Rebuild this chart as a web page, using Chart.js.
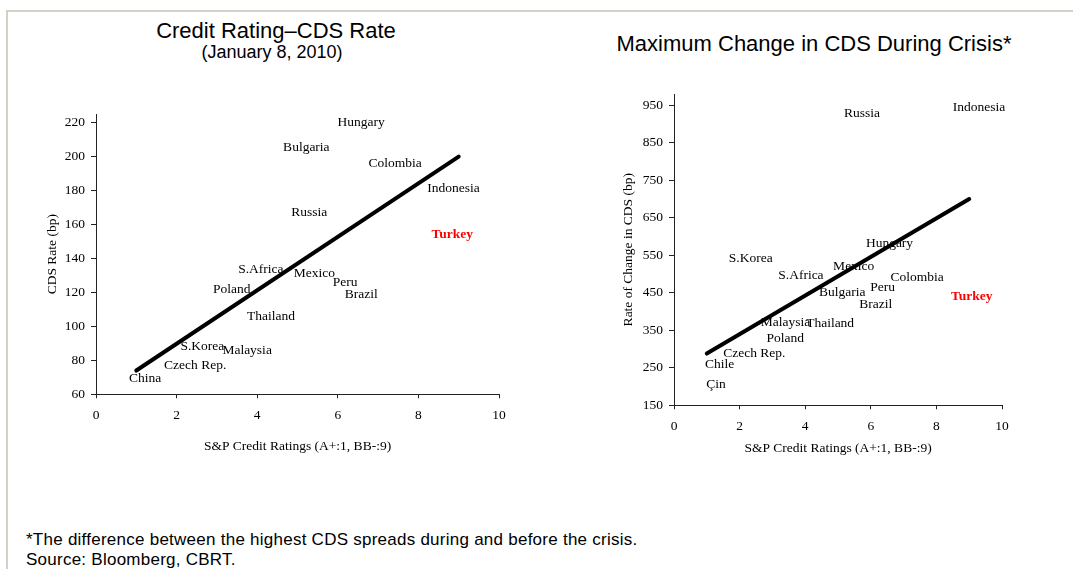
<!DOCTYPE html>
<html>
<head>
<meta charset="utf-8">
<script src="https://cdn.jsdelivr.net/npm/chart.js@4.4.0/dist/chart.umd.min.js"></script>
<style>
  body { margin: 0; background: #fff; }
  #page { position: relative; width: 1073px; height: 569px; overflow: hidden; background: #fff; }
  .rule { position: absolute; background: #d4d0c8; }
  .ttl { position: absolute; font-family: 'Liberation Sans', Arial, sans-serif; color: #000; text-align: center; white-space: nowrap; }
  .note { position: absolute; left: 26px; font-family: 'Liberation Sans', Arial, sans-serif; font-size: 17px; line-height: 20px; letter-spacing: 0.25px; color: #000; white-space: nowrap; }
  canvas { position: absolute; }
</style>
</head>
<body>
<div id="page">
  <div class="rule" style="left:6px; top:10px; width:1067px; height:2px;"></div>
  <div class="rule" style="left:6px; top:10px; width:2px; height:559px;"></div>

  <div class="ttl" style="left:76px; top:20px; width:400px; font-size:22px; line-height:22px;">Credit Rating–CDS Rate</div>
  <div class="ttl" style="left:72px; top:43px; width:400px; font-size:18px; line-height:18px;">(January 8, 2010)</div>
  <div class="ttl" style="left:514px; top:33px; width:600px; font-size:22px; line-height:22px;">Maximum Change in CDS During Crisis*</div>

  <div style="position:absolute; left:0; top:100px; width:520px; height:370px;"><canvas id="leftChart"></canvas></div>
  <div style="position:absolute; left:560px; top:80px; width:480px; height:400px;"><canvas id="rightChart"></canvas></div>

  <div class="note" style="top:530px;">*The difference between the highest CDS spreads during and before the crisis.<br>Source: Bloomberg, CBRT.</div>
</div>

<script>
// left panel: CDS level on 8 Jan 2010
const leftCountries = ['Hungary', 'Bulgaria', 'Colombia', 'Indonesia', 'Russia', 'Turkey', 'S.Africa', 'Mexico', 'Peru', 'Brazil', 'Poland', 'Thailand', 'S.Korea', 'Malaysia', 'Czech Rep.', 'China']
const leftRating = [6.58, 5.22, 7.42, 8.87, 5.29, 8.84, 4.09, 5.42, 6.18, 6.58, 3.37, 4.34, 2.64, 3.75, 2.46, 1.22]
const leftCds = [220, 205.5, 196, 181.4, 167.3, 154.1, 133.5, 131.4, 126.1, 118.6, 122, 106, 88.2, 86, 77, 69.6]
const leftTrendX = [1, 9]
const leftTrendY = [74, 200]

// right panel: max change in CDS during crisis
const rightCountries = ['Russia', 'Indonesia', 'Hungary', 'S.Korea', 'Mexico', 'S.Africa', 'Colombia', 'Peru', 'Bulgaria', 'Turkey', 'Brazil', 'Malaysia', 'Thailand', 'Poland', 'Czech Rep.', 'Chile', 'Çin']
const rightRating = [5.73, 9.30, 6.57, 2.34, 5.48, 3.87, 7.41, 6.36, 5.13, 9.08, 6.15, 3.40, 4.76, 3.39, 2.45, 1.39, 1.28]
const rightChange = [928, 944, 582, 542, 521, 497, 492, 463, 452, 441, 418, 372, 368, 327, 287, 258, 205]
const rightTrendX = [1, 9]
const rightTrendY = [288, 700]

const xTicks = [0, 2, 4, 6, 8, 10]
const leftYTicks = [60, 80, 100, 120, 140, 160, 180, 200, 220]
const rightYTicks = [150, 250, 350, 450, 550, 650, 750, 850, 950]

Chart.defaults.font.family = "'Liberation Serif', 'Times New Roman', serif"
Chart.defaults.font.size = 13.5
Chart.defaults.color = '#000'

const serif = { family: "'Liberation Serif', 'Times New Roman', serif", size: 13.5 }

// country names are drawn as the marks, under the trend line
const nameLabels = {
  id: 'nameLabels',
  beforeDatasetsDraw (chart) {
    const names = chart.options.plugins.nameLabels.names
    const meta = chart.getDatasetMeta(0)
    const ctx = chart.ctx
    ctx.save()
    ctx.textAlign = 'center'
    ctx.textBaseline = 'middle'
    meta.data.forEach((pt, i) => {
      const turkey = names[i] === 'Turkey'
      ctx.font = (turkey ? 'bold ' : '') + serif.size + 'px ' + serif.family
      ctx.fillStyle = turkey ? '#ff0000' : '#000'
      ctx.fillText(names[i], pt.x, pt.y)
    })
    ctx.restore()
  }
}

function makeChart (id, names, xs, ys, tx, ty, yMin, yMax, yTicks, yTitle, geo) {
  const ctx = document.getElementById(id).getContext('2d')
  return new Chart(ctx, {
    type: 'scatter',
    data: {
      datasets: [
        {
          data: xs.map((x, i) => ({ x: x, y: ys[i] })),
          pointRadius: 0,
          pointHoverRadius: 0
        },
        {
          data: tx.map((x, i) => ({ x: x, y: ty[i] })),
          showLine: true,
          borderColor: '#000',
          borderWidth: 4,
          pointRadius: 0,
          borderCapStyle: 'round'
        }
      ]
    },
    options: {
      responsive: true,
      maintainAspectRatio: false,
      animation: false,
      events: [],
      layout: { padding: { top: geo.top, right: geo.right, left: 0, bottom: 0 } },
      plugins: {
        legend: { display: false },
        tooltip: { enabled: false },
        nameLabels: { names: names }
      },
      scales: {
        x: {
          type: 'linear',
          min: 0,
          max: 10,
          afterBuildTicks: s => { s.ticks = xTicks.map(v => ({ value: v })) },
          afterFit: s => { s.height = geo.xh },
          ticks: { font: serif, padding: 9, color: '#000' },
          grid: { drawOnChartArea: false, drawTicks: true, tickLength: 4, color: '#222' },
          border: { display: true, color: '#222', width: 1 },
          title: { display: true, text: 'S&P Credit Ratings (A+:1, BB-:9)', font: serif, color: '#000', padding: { top: 0, bottom: geo.xtp } }
        },
        y: {
          type: 'linear',
          min: yMin,
          max: yMax,
          afterBuildTicks: s => { s.ticks = yTicks.map(v => ({ value: v })) },
          afterFit: s => { s.width = geo.yw },
          ticks: { font: serif, padding: 6, color: '#000' },
          grid: { drawOnChartArea: false, drawTicks: true, tickLength: 5, color: '#222' },
          border: { display: true, color: '#222', width: 1 },
          title: { display: true, text: yTitle, font: serif, color: '#000', padding: { top: geo.ytp, bottom: 0 } }
        }
      }
    },
    plugins: [nameLabels]
  })
}

makeChart('leftChart', leftCountries, leftRating, leftCds, leftTrendX, leftTrendY, 60, 225, leftYTicks, 'CDS Rate (bp)',
  { top: 12.7, right: 21, xh: 75.7, yw: 96, xtp: 15.5, ytp: 44 })
makeChart('rightChart', rightCountries, rightRating, rightChange, rightTrendX, rightTrendY, 150, 980, rightYTicks, 'Rate of Change in CDS (bp)',
  { top: 13.3, right: 38, xh: 74.7, yw: 114, xtp: 23.2, ytp: 60.2 })
</script>
</body>
</html>
